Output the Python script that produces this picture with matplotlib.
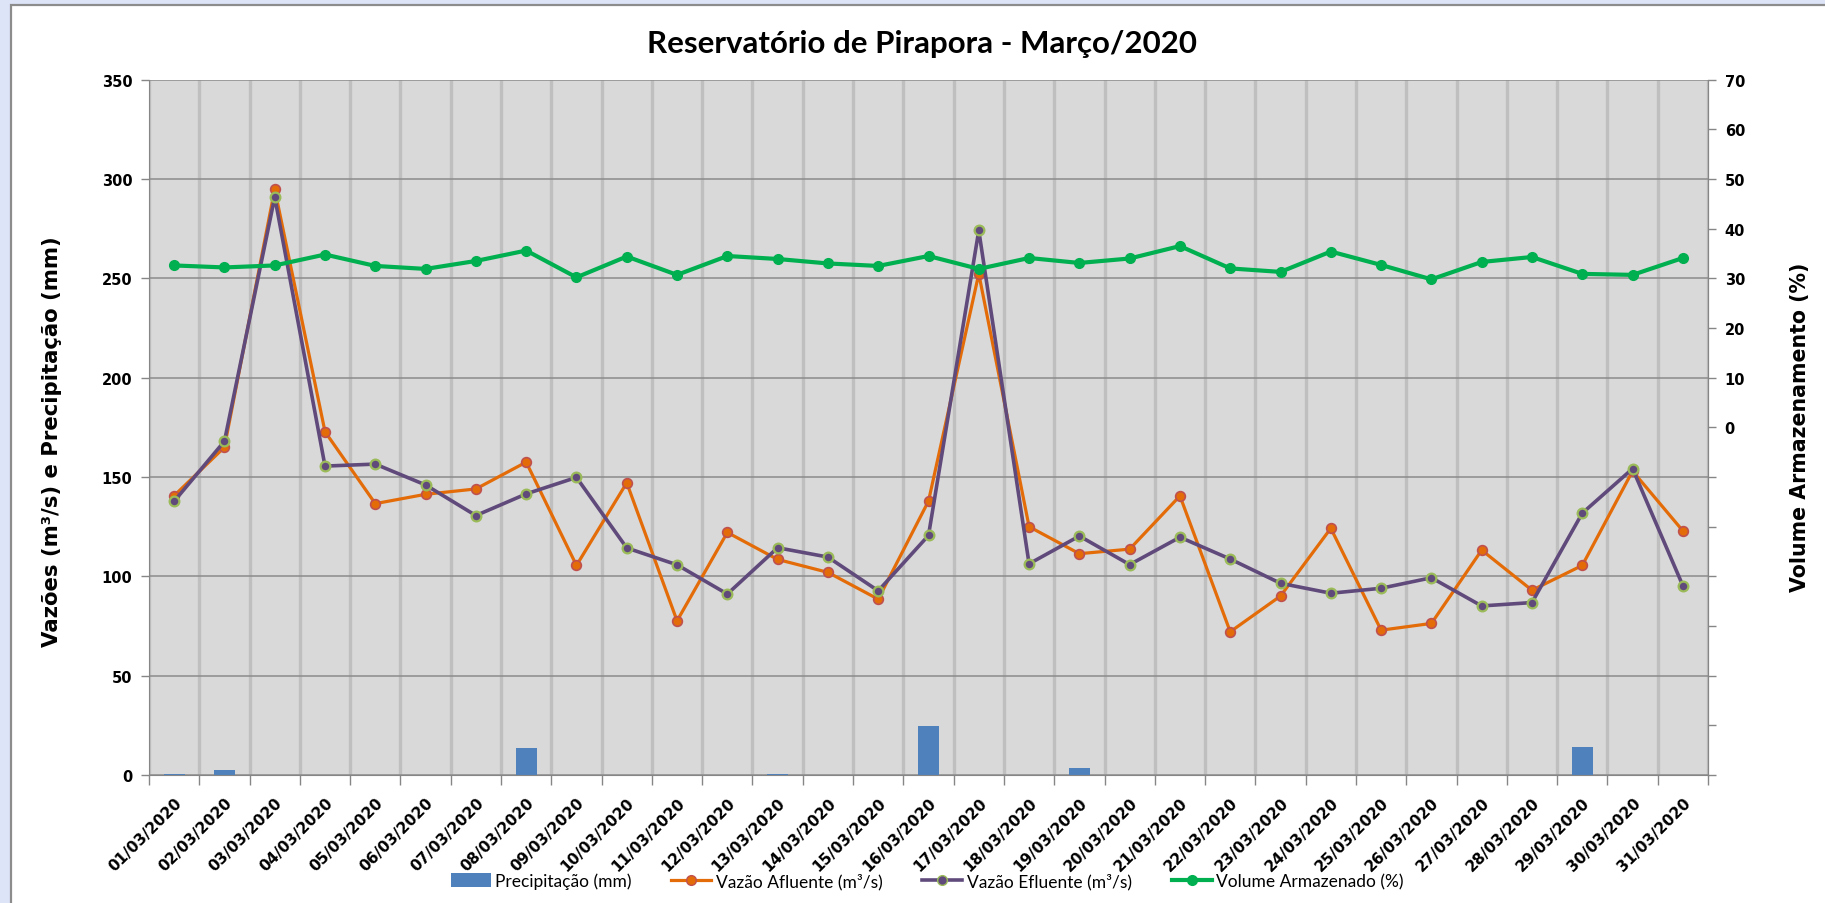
import matplotlib
matplotlib.use("Agg")
import matplotlib.pyplot as plt
from matplotlib.patches import Rectangle
from matplotlib.lines import Line2D
from matplotlib.patches import Patch
import numpy as np

days = [f"{d:02d}/03/2020" for d in range(1, 32)]
precip = [0.7, 2.5, 0, 0, 0, 0, 0, 13.5, 0, 0, 0, 0, 0.7, 0, 0, 24.7,
          0, 0, 3.4, 0, 0, 0, 0, 0, 0, 0, 0, 0, 14.1, 0, 0]
afluente = [140.6, 165.0, 294.9, 172.8, 136.6, 141.3, 144.0, 157.5, 105.5, 147.1,
            77.6, 122.1, 108.5, 102.0, 88.5, 137.9, 252.3, 125.0, 111.4, 113.7,
            140.5, 72.1, 90.1, 124.2, 72.9, 76.3, 113.2, 93.0, 105.5, 153.0, 122.9]
efluente = [137.8, 168.0, 290.9, 155.5, 156.5, 146.0, 130.6, 141.5, 149.8, 114.3,
            105.8, 91.1, 114.4, 109.7, 92.7, 120.6, 274.1, 106.3, 120.3, 105.9,
            119.7, 108.7, 96.5, 91.5, 94.0, 99.3, 85.1, 86.8, 131.8, 154.2, 95.3]
volume = [32.6, 32.2, 32.6, 34.8, 32.5, 31.9, 33.5, 35.6, 30.2, 34.4,
          30.7, 34.5, 33.9, 33.0, 32.5, 34.5, 31.9, 34.1, 33.1, 34.0,
          36.5, 32.0, 31.3, 35.4, 32.7, 29.8, 33.3, 34.3, 30.9, 30.7, 34.1]

title = "Reservatório de Pirapora - Março/2020"
ylabel_left = "Vazões (m³/s) e Precipitação (mm)"
ylabel_right = "Volume Armazenamento (%)"
legend_labels = ["Precipitação (mm)", "Vazão Afluente (m³/s)",
                 "Vazão Efluente (m³/s)", "Volume Armazenado (%)"]

W, H = 1825, 904
fig = plt.figure(figsize=(W / 100, H / 100), dpi=100)
fig.patch.set_facecolor("#dde4f8")
fig.patches.append(Rectangle((11 / W, -0.05), 1.1, 1.05 - 5.5 / H,
                             transform=fig.transFigure, facecolor="white",
                             edgecolor="#8c8c8c", linewidth=1.6, zorder=-5))

left, right, top, bottom = 149, 1708, 80.7, 776
ax = fig.add_axes([left / W, 1 - bottom / H, (right - left) / W, (bottom - top) / H])
ax.set_facecolor("#d9d9d9")
x = np.arange(len(days))

ax.bar(x, precip, width=0.42, color="#4f81bd", zorder=2)
ax.plot(x, afluente, color="#e36c09", lw=2.3, marker="o", ms=7,
        mfc="#e36c09", mec="#c0504d", mew=1.2, zorder=3)
ax.plot(x, efluente, color="#604a7b", lw=2.6, marker="o", ms=7,
        mfc="#604a7b", mec="#9bbb59", mew=1.6, zorder=4)

ax.set_xlim(-0.5, len(days) - 0.5)
ax.set_ylim(0, 350)
ax.set_yticks(np.arange(0, 351, 50))
ax.set_xticks(x)
ax.set_xticklabels(days, rotation=45, ha="right", rotation_mode="anchor",
                   fontsize=11, fontweight="bold")
ax.set_xticks(np.arange(-0.5, len(days), 1), minor=True)
ax.tick_params(axis="x", which="major", length=0, pad=14)
ax.tick_params(axis="x", which="minor", length=7, color="#868686", width=1, direction="out")
ax.tick_params(axis="y", length=6, color="#868686", width=1, labelsize=10.5, pad=6)
for lab in ax.get_yticklabels():
    lab.set_fontweight("bold")
ax.set_axisbelow(True)
ax.grid(axis="x", which="minor", color="#bfbfbf", lw=2.4)
ax.grid(axis="x", which="major", visible=False)
ax.grid(axis="y", which="major", color="#8c8c8c", lw=1.1)
for s in ["left", "bottom", "right"]:
    ax.spines[s].set_color("#868686")
ax.spines["top"].set_visible(False)

ax2 = ax.twinx()
ax2.plot(x, volume, color="#00b050", lw=3.0, marker="o", ms=7,
         mfc="#00b050", mec="#00b050", zorder=5)
ax2.set_ylim(-70, 70)
rticks = np.arange(-70, 71, 10)
ax2.set_yticks(rticks)
ax2.set_yticklabels([str(t) if t >= 0 else "" for t in rticks],
                    fontsize=10.5, fontweight="bold")
ax2.tick_params(axis="y", length=6, color="#868686", width=1, pad=6)
for s in ["left", "bottom", "top"]:
    ax2.spines[s].set_visible(False)
ax2.spines["right"].set_color("#868686")

fig.text(0.505, 0.951, title, ha="center", va="center", fontsize=22.5,
         fontweight="bold", family="Lato")
fig.text(52 / W, 1 - 442 / H, ylabel_left, rotation=90, ha="center", va="center",
         fontsize=15.3, fontweight="bold")
fig.text(1800 / W, 1 - 427 / H, ylabel_right, rotation=90, ha="center", va="center",
         fontsize=14.8, fontweight="bold")

handles = [Patch(facecolor="#4f81bd"),
           Line2D([], [], color="#e36c09", lw=2.3, marker="o", ms=7, mfc="#e36c09", mec="#c0504d"),
           Line2D([], [], color="#604a7b", lw=2.6, marker="o", ms=7, mfc="#604a7b", mec="#9bbb59"),
           Line2D([], [], color="#00b050", lw=3.0, marker="o", ms=7, mfc="#00b050", mec="#00b050")]
fig.legend(handles, legend_labels, loc="center", bbox_to_anchor=(0.508, 1 - 882 / H),
           ncol=4, frameon=False, prop={"family": "Lato", "size": 12.5},
           handlelength=2.3, handletextpad=0.25, columnspacing=2.3, handleheight=0.9)

fig.savefig("out.png", dpi=100, facecolor=fig.get_facecolor())
